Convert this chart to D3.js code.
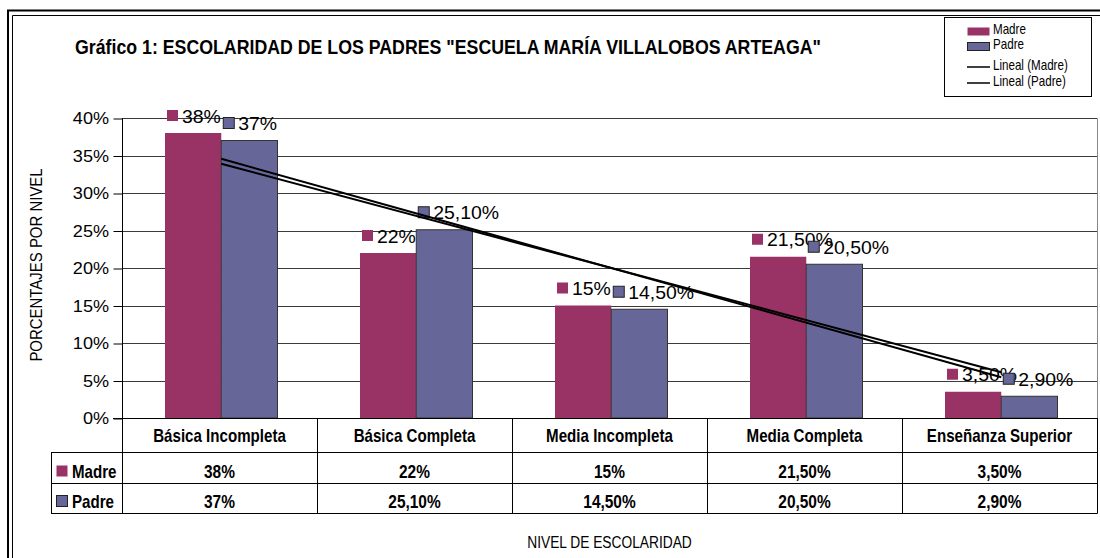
<!DOCTYPE html>
<html>
<head>
<meta charset="utf-8">
<script src="https://cdn.jsdelivr.net/npm/d3@7"></script>
<style>
  html, body { margin: 0; padding: 0; background: #fff; }
  svg { display: block; font-family: "Liberation Sans", Arial, sans-serif; }
</style>
</head>
<body>
<div id="chart"></div>
<script>
// data
const categories = ["Básica Incompleta", "Básica Completa", "Media Incompleta", "Media Completa", "Enseñanza Superior"];
const series = ["Madre", "Padre"];
const madre = [0.38, 0.22, 0.15, 0.215, 0.035];
const padre = [0.37, 0.251, 0.145, 0.205, 0.029];
const yTicks = [0, 0.05, 0.10, 0.15, 0.20, 0.25, 0.30, 0.35, 0.40];

const colors = { Madre: "#993366", Padre: "#666699" };
const values = { Madre: madre, Padre: padre };

const W = 1100, H = 558;
const plot = { left: 122, right: 1097, top: 118, bottom: 418 };

// spanish percent format: 38% / 21,50%
const es = d3.formatLocale({ decimal: ",", thousands: ".", grouping: [3], currency: ["", ""] });
const pct = v => Math.abs(v * 100 - Math.round(v * 100)) < 1e-9 ? es.format(".0%")(v) : es.format(".2%")(v);

const svg = d3.select("#chart").append("svg")
    .attr("width", W)
    .attr("height", H);

// text with horizontal squeeze/stretch
function txt(parent, x, y, str, o = {}) {
    return parent.append("text")
        .attr("transform", `translate(${x},${y})${o.rotate ? ` rotate(${o.rotate})` : ""} scale(${o.sx || 1},1)`)
        .attr("font-size", o.size || 14)
        .attr("font-weight", o.weight || "normal")
        .attr("text-anchor", o.anchor || "start")
        .attr("fill", "#000")
        .text(str);
}

// outer double frame
svg.append("path")
    .attr("d", `M8,${H + 10}V10.5H${W + 10}`)
    .attr("fill", "none").attr("stroke", "#000").attr("stroke-width", 2);
svg.append("path")
    .attr("d", `M12.5,${H + 10}V15.5H${W + 10}`)
    .attr("fill", "none").attr("stroke", "#000").attr("stroke-width", 1);

// title
txt(svg, 75, 54, 'Gráfico 1: ESCOLARIDAD DE LOS PADRES "ESCUELA MARÍA VILLALOBOS ARTEAGA"',
    { size: 21, weight: "bold", sx: 0.845 });

// scales
const x0 = d3.scaleBand().domain(categories).range([plot.left, plot.right]);
const x1 = d3.scaleBand().domain(series).range([43, 155.5]);
const y = d3.scaleLinear().domain([0, 0.40]).range([plot.bottom, plot.top]);

// plot area border (top/right)
svg.append("path")
    .attr("d", `M${plot.left},${plot.top + 0.5}H${plot.right + 0.5}V${plot.bottom}`)
    .attr("fill", "none").attr("stroke", "#888");

// gridlines
svg.append("g")
    .selectAll("line")
    .data(yTicks.filter(d => d > 0))
    .join("line")
    .attr("x1", plot.left).attr("x2", plot.right)
    .attr("y1", d => Math.round(y(d)) + 0.5).attr("y2", d => Math.round(y(d)) + 0.5)
    .attr("stroke", "#3a3a3a");

// y axis
const yAxis = svg.append("g")
    .attr("transform", `translate(${plot.left + 0.5},0.5)`)
    .call(d3.axisLeft(y).tickValues(yTicks).tickSize(9).tickFormat(d3.format(".0%")));
yAxis.select(".domain").remove();
yAxis.selectAll("line").attr("stroke", "#000");
yAxis.selectAll("text")
    .attr("font-family", "Liberation Sans, Arial, sans-serif")
    .attr("font-size", 16)
    .attr("fill", "#000")
    .attr("x", -13.5 / 1.13)
    .attr("transform", "scale(1.13,1)");

// bars
const groups = svg.append("g")
    .selectAll("g")
    .data(categories)
    .join("g")
    .attr("transform", d => `translate(${x0(d)},0)`);

groups.selectAll("rect")
    .data((c, i) => series.map(s => ({ s, v: values[s][i] })))
    .join("rect")
    .attr("x", d => x1(d.s))
    .attr("y", d => y(d.v))
    .attr("width", x1.bandwidth())
    .attr("height", d => plot.bottom - y(d.v))
    .attr("fill", d => colors[d.s])
    .attr("stroke", d => d.s === "Padre" ? "#333" : "none")
    .attr("stroke-width", 1);

// linear trend lines (least squares over category index)
function fit(vals) {
    const xs = vals.map((_, i) => i + 1);
    const mx = d3.mean(xs), my = d3.mean(vals);
    const b = d3.sum(xs, (xv, i) => (xv - mx) * (vals[i] - my)) / d3.sum(xs, xv => (xv - mx) ** 2);
    return xv => my + b * (xv - mx);
}
const groupCenter = c => x0(c) + (x1.range()[0] + x1.range()[1]) / 2;
const line = d3.line().x(d => d[0]).y(d => d[1]);
series.forEach(s => {
    const f = fit(values[s]);
    const ends = [0, categories.length - 1].map(i => [groupCenter(categories[i]), y(f(i + 1))]);
    svg.append("path")
        .attr("d", line(ends))
        .attr("fill", "none")
        .attr("stroke", "#000")
        .attr("stroke-width", 2);
});

// data labels
groups.each(function (c, i) {
    const g = d3.select(this);
    series.forEach(s => {
        const v = values[s][i];
        const bx = x1(s) + 2;
        const top = y(v);
        g.append("rect")
            .attr("x", bx).attr("y", top - 23)
            .attr("width", 11).attr("height", 11)
            .attr("fill", colors[s])
            .attr("stroke", s === "Padre" ? "#222" : "none");
        txt(g, bx + 15, top - 10.5, pct(v), { size: 18, sx: 1.08 });
    });
});

// data table under the axis
const table = svg.append("g");
const rowY = [plot.bottom, 452, 483, 513];
const tLeft = 51;

// horizontal rules
table.selectAll("line.h")
    .data(rowY)
    .join("line")
    .attr("class", "h")
    .attr("x1", (d, i) => i === 0 ? plot.left - 9 : tLeft)
    .attr("x2", plot.right + 0.5)
    .attr("y1", d => d + 0.5).attr("y2", d => d + 0.5)
    .attr("stroke", "#000");

// vertical rules
const vx = categories.map(c => x0(c)).concat([plot.right]);
table.selectAll("line.v")
    .data(vx)
    .join("line")
    .attr("class", "v")
    .attr("x1", d => Math.round(d) + 0.5).attr("x2", d => Math.round(d) + 0.5)
    .attr("y1", (d, i) => i === 0 ? plot.top : plot.bottom)
    .attr("y2", rowY[3] + 0.5)
    .attr("stroke", "#000");
table.append("line")
    .attr("x1", tLeft + 0.5).attr("x2", tLeft + 0.5)
    .attr("y1", rowY[1]).attr("y2", rowY[3] + 0.5)
    .attr("stroke", "#000");

// header row
categories.forEach(c => {
    txt(table, x0(c) + x0.bandwidth() / 2, 442, c, { size: 18, weight: "bold", sx: 0.84, anchor: "middle" });
});

// value rows
const rowBase = [478, 508];
series.forEach((s, r) => {
    table.append("rect")
        .attr("x", 56.5).attr("y", rowBase[r] - 12.5)
        .attr("width", 11).attr("height", 11)
        .attr("fill", colors[s])
        .attr("stroke", s === "Padre" ? "#222" : "none");
    txt(table, 72, rowBase[r], s, { size: 18, weight: "bold", sx: 0.84 });
    values[s].forEach((v, i) => {
        txt(table, x0(categories[i]) + x0.bandwidth() / 2, rowBase[r], pct(v),
            { size: 18, weight: "bold", sx: 0.86, anchor: "middle" });
    });
});

// axis titles
txt(svg, (plot.left + plot.right) / 2, 548, "NIVEL DE ESCOLARIDAD", { size: 17, sx: 0.81, anchor: "middle" });
txt(svg, 42, 265, "PORCENTAJES POR NIVEL", { size: 17, sx: 0.88, anchor: "middle", rotate: -90 });

// legend
const legend = svg.append("g");
legend.append("rect")
    .attr("x", 944.5).attr("y", 17.5)
    .attr("width", 147).attr("height", 79)
    .attr("fill", "#fff").attr("stroke", "#000");
const legendItems = [
    { name: "Madre", kind: "box", s: "Madre", base: 33.5, mark: 27 },
    { name: "Padre", kind: "box", s: "Padre", base: 48.5, mark: 42 },
    { name: "Lineal (Madre)", kind: "line", base: 70, mark: 67 },
    { name: "Lineal (Padre)", kind: "line", base: 85.5, mark: 83 }
];
legendItems.forEach(it => {
    if (it.kind === "box") {
        legend.append("rect")
            .attr("x", 967.5).attr("y", it.mark + 0.5)
            .attr("width", 22).attr("height", 8)
            .attr("fill", colors[it.s])
            .attr("stroke", it.s === "Padre" ? "#222" : "none");
    } else {
        legend.append("line")
            .attr("x1", 967).attr("x2", 990)
            .attr("y1", it.mark).attr("y2", it.mark)
            .attr("stroke", "#000").attr("stroke-width", 1.5);
    }
    txt(legend, 993, it.base, it.name, { size: 14.5, sx: 0.8 });
});
</script>
</body>
</html>
